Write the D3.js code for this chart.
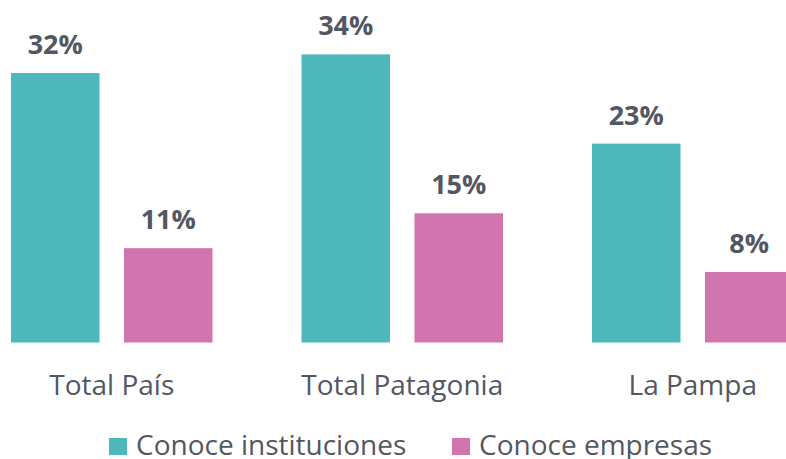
<!DOCTYPE html>
<html><head><meta charset="utf-8">
<script src="https://cdn.jsdelivr.net/npm/d3@7"></script>
<style>body{margin:0;background:#fff}svg{display:block}</style>
</head><body>
<svg id="c" width="786" height="459"></svg>
<script>
const categories = ["Total País", "Total Patagonia", "La Pampa"];
const seriesNames = ["Conoce instituciones", "Conoce empresas"];
const instituciones = [31.7, 33.9, 23.4];
const empresas = [11.1, 15.2, 8.3];
const colors = ["#4fb8bd", "#d275ae"];

const svg = d3.select("#c");
const textColor = "#535762";
const font = "'Open Sans', sans-serif";

const x0 = d3.scaleBand().domain(categories).range([-33.5, 838]).paddingInner(0.3064).paddingOuter(0.1532);
const x1 = d3.scaleBand().domain(seriesNames).range([0, x0.bandwidth()]).paddingInner(0.2168).paddingOuter(0);
const y = d3.scaleLinear().domain([0, 34]).range([342.5, 53.5]);

const data = categories.map((c, i) => ({cat: c, vals: [instituciones[i], empresas[i]]}));

const g = svg.append("g");
const groups = g.selectAll("g.grp").data(data).join("g")
  .attr("transform", d => `translate(${x0(d.cat)},0)`);

groups.selectAll("rect").data(d => d.vals.map((v, j) => ({s: seriesNames[j], v, j})))
  .join("rect")
  .attr("x", d => x1(d.s)).attr("width", x1.bandwidth())
  .attr("y", d => y(d.v)).attr("height", d => y(0) - y(d.v))
  .attr("fill", d => colors[d.j]);

groups.selectAll("text.val").data(d => d.vals.map((v, j) => ({s: seriesNames[j], v, j})))
  .join("text").attr("class", "val")
  .attr("x", d => x1(d.s) + x1.bandwidth() / 2)
  .attr("y", d => y(d.v) - 19)
  .attr("text-anchor", "middle")
  .attr("font-family", font).attr("font-weight", 700).attr("font-size", 27)
  .attr("fill", textColor)
  .text(d => d3.format(".0f")(d.v) + "%");

// category axis
const axis = d3.axisBottom(x0).tickSize(0).tickPadding(0);
const ax = svg.append("g").attr("transform", `translate(0,${y(0)})`).call(axis);
ax.select(".domain").remove();
ax.selectAll("text").attr("font-family", font).attr("font-size", 28)
  .attr("fill", textColor).attr("dy", null).attr("y", 52);

// legend
const legX = [109, 452];
const leg = svg.append("g").selectAll("g").data(seriesNames).join("g")
  .attr("transform", (d, i) => `translate(${legX[i]},438)`);
leg.append("rect").attr("width", 18).attr("height", 17).attr("fill", (d, i) => colors[i]);
leg.append("text").attr("x", 27).attr("y", 17)
  .attr("font-family", font).attr("font-size", 28).attr("fill", textColor)
  .text(d => d);
</script>
</body></html>
